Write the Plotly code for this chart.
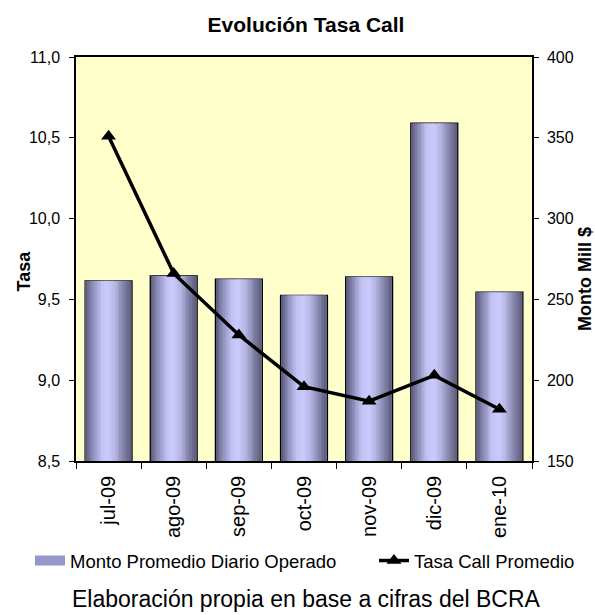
import plotly.graph_objects as go

# Monthly data
meses = ["jul-09", "ago-09", "sep-09", "oct-09", "nov-09", "dic-09", "ene-10"]
monto = [261.5, 264.5, 262.5, 252.5, 264.0, 359.0, 254.5]   # Monto Promedio Diario Operado (Mill $)
tasa = [10.51, 9.66, 9.28, 8.96, 8.87, 9.03, 8.82]          # Tasa Call Promedio (%)

tick_tasa = [8.5, 9.0, 9.5, 10.0, 10.5, 11.0]
tick_monto = [150, 200, 250, 300, 350, 400]

FONT = "Liberation Sans, Arial, sans-serif"
BAR_W = 0.72
PLOT_L, PLOT_R, PLOT_T, PLOT_B = 76, 532, 57, 461


def px_x(px):
    return (px - PLOT_L) / (PLOT_R - PLOT_L)


def px_y(py):
    return (PLOT_B - py) / (PLOT_B - PLOT_T)


# cylinder-like shading across each bar, left edge to right edge
stops = [(0.0, (86, 86, 118)), (0.15, (138, 138, 182)), (0.35, (194, 194, 244)),
         (0.5, (202, 202, 252)), (0.65, (182, 182, 228)), (0.85, (128, 128, 166)),
         (1.0, (92, 92, 124))]


def shade(t):
    for (t0, c0), (t1, c1) in zip(stops, stops[1:]):
        if t0 <= t <= t1:
            f = (t - t0) / (t1 - t0)
            return "rgb(%d,%d,%d)" % tuple(round(a + (b - a) * f) for a, b in zip(c0, c1))
    return "rgb(%d,%d,%d)" % stops[-1][1]


fig = go.Figure()

# outlined base bar
fig.add_trace(go.Bar(
    x=meses, y=monto, width=BAR_W, offset=-BAR_W / 2,
    marker=dict(color="rgb(160,160,206)", line=dict(color="black", width=1.3)),
    name="Monto Promedio Diario Operado", showlegend=False, yaxis="y",
))

# shaded strips laid over the base bar
N = 24
inset = 0.012
inner = BAR_W - 2 * inset
sw = inner / N
for i in range(N):
    fig.add_trace(go.Bar(
        x=meses, y=monto, width=sw * 1.05, offset=-BAR_W / 2 + inset + i * sw,
        marker=dict(color=shade((i + 0.5) / N), line=dict(width=0)),
        showlegend=False, hoverinfo="skip", yaxis="y",
    ))

# legend swatch for the bars
fig.add_trace(go.Scatter(
    x=[None], y=[None], mode="lines", yaxis="y",
    line=dict(color="rgb(150,150,200)", width=12),
    name="Monto Promedio Diario Operado", legend="legend",
))

# rate line on the left axis
fig.add_trace(go.Scatter(
    x=meses, y=tasa, mode="lines+markers",
    line=dict(color="black", width=3.5),
    marker=dict(symbol="triangle-up", size=13, color="black"),
    name="Tasa Call Promedio", yaxis="y2", legend="legend2",
))

leg_common = dict(orientation="h", yanchor="middle", y=px_y(561),
                  xanchor="left", font=dict(size=18.5), bgcolor="rgba(0,0,0,0)",
                  itemwidth=30)

axis_common = dict(ticks="outside", tickcolor="black", showline=True,
                   linecolor="black", linewidth=1.5, showgrid=False,
                   zeroline=False, automargin=False)

fig.update_layout(
    width=595, height=615,
    margin=dict(l=PLOT_L, r=595 - PLOT_R, t=PLOT_T, b=615 - PLOT_B),
    paper_bgcolor="white", plot_bgcolor="#ffffcc",
    barmode="overlay",
    font=dict(family=FONT, size=16, color="black"),
    title=dict(text="<b>Evolución Tasa Call</b>", x=px_x(306), xref="paper",
               xanchor="center", y=1 - 25 / 615, yanchor="middle",
               font=dict(size=21)),
    showlegend=True,
    legend=dict(x=px_x(30), **leg_common),
    legend2=dict(x=px_x(374), **leg_common),
    xaxis=dict(type="category", tickangle=-90, tickson="boundaries",
               ticklen=6, mirror=True, ticklabelstandoff=5,
               tickfont=dict(size=20), **axis_common),
    yaxis=dict(side="right", range=[150, 400], tickvals=tick_monto,
               ticktext=[str(v) for v in tick_monto],
               ticklen=5, ticklabelstandoff=5, **axis_common),
    yaxis2=dict(side="left", overlaying="y", range=[8.5, 11.0], tickvals=tick_tasa,
                ticktext=[("%.1f" % v).replace(".", ",") for v in tick_tasa],
                ticklen=5, ticklabelstandoff=6, **axis_common),
    annotations=[
        dict(text="<b>Tasa</b>", textangle=-90, xref="paper", yref="paper",
             x=px_x(23.5), y=px_y(271), xanchor="center", yanchor="middle",
             showarrow=False, font=dict(size=18)),
        dict(text="<b>Monto Mill $</b>", textangle=-90, xref="paper", yref="paper",
             x=px_x(585), y=px_y(279), xanchor="center", yanchor="middle",
             showarrow=False, font=dict(size=18)),
        dict(text="Elaboración propia en base a cifras del BCRA",
             xref="paper", yref="paper", x=px_x(306), y=px_y(599),
             xanchor="center", yanchor="middle", showarrow=False,
             font=dict(size=23)),
    ],
)

fig.write_html("out.html")
